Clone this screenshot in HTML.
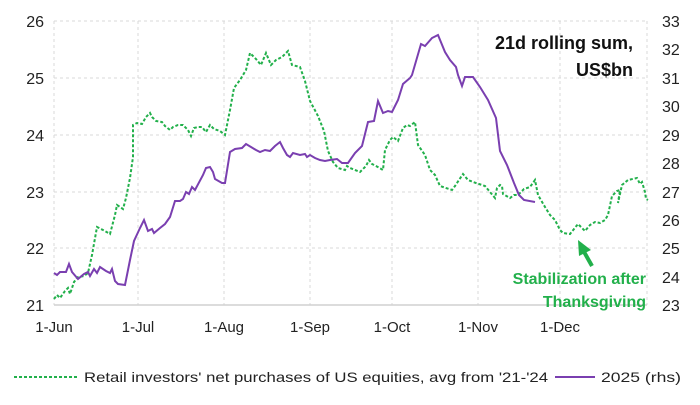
<!DOCTYPE html><html><head><style>body{margin:0;background:#fff}svg text{font-family:"Liberation Sans",sans-serif}</style></head><body>
<svg width="700" height="400" viewBox="0 0 700 400" xmlns="http://www.w3.org/2000/svg">
<g stroke="#d9d9d9" stroke-width="1" stroke-dasharray="3,3">
<line x1="54" y1="21" x2="647" y2="21"/><line x1="54" y1="78" x2="647" y2="78"/><line x1="54" y1="135" x2="647" y2="135"/><line x1="54" y1="192" x2="647" y2="192"/><line x1="54" y1="248" x2="647" y2="248"/>
<line x1="54" y1="21" x2="54" y2="305"/><line x1="138" y1="21" x2="138" y2="305"/><line x1="224" y1="21" x2="224" y2="305"/><line x1="310" y1="21" x2="310" y2="305"/><line x1="392" y1="21" x2="392" y2="305"/><line x1="478" y1="21" x2="478" y2="305"/><line x1="560" y1="21" x2="560" y2="305"/><line x1="647" y1="21" x2="647" y2="305"/>
</g>
<line x1="54" y1="305" x2="647" y2="305" stroke="#d0d0d0" stroke-width="1.5"/>
<g font-size="16" fill="#222" text-anchor="end">
<text x="44" y="27">26</text><text x="44" y="84">25</text><text x="44" y="141">24</text><text x="44" y="198">23</text><text x="44" y="254">22</text><text x="44" y="311">21</text></g>
<g font-size="16" fill="#222">
<text x="662" y="27">33</text><text x="662" y="55">32</text><text x="662" y="84">31</text><text x="662" y="112">30</text><text x="662" y="141">29</text><text x="662" y="169">28</text><text x="662" y="198">27</text><text x="662" y="226">26</text><text x="662" y="254">25</text><text x="662" y="283">24</text><text x="662" y="311">23</text></g>
<g font-size="15" fill="#222" text-anchor="middle">
<text x="54" y="332">1-Jun</text><text x="138" y="332">1-Jul</text><text x="224" y="332">1-Aug</text><text x="310" y="332">1-Sep</text><text x="392" y="332">1-Oct</text><text x="478" y="332">1-Nov</text><text x="560" y="332">1-Dec</text></g>
<polyline fill="none" stroke="#22b04b" stroke-width="2" stroke-dasharray="3,2" points="54,299 57,295 60,298 65,291 68,288 70,294 74,282 78,277 84,276 88,273 92,255 97,227 103,230 110,234 115,215 117,205 123,209 126,198 130,178 133,157 133,125 137,123 142,124 146,117 150,113 152,117 156,121 162,122 165,126 170,130 173,127 178,125 183,125 188,130 191,136 194,128 198,127 202,127 206,132 210,125 214,129 220,131 225,135 230,110 234,88 240,80 246,70 250,53 256,59 261,65 266,53 271,65 276,60 282,57 288,51 292,65 300,67 305,81 310,101 318,116 324,131 328,151 333,162 338,168 345,170 347,166 350,168 360,172 366,166 369,160 372,164 376,166 383,170 385,150 390,140 393,137 398,141 403,128 407,125 410,126 415,122 418,145 425,155 430,170 435,175 440,186 452,190 455,186 463,174 468,180 476,183 485,186 490,192 495,198 497,188 500,185 502,186 503,194 510,198 514,195 518,195 524,189 530,187 535,180 538,195 545,207 550,215 555,220 560,230 563,233 570,234 574,229 578,224 580,226 585,231 590,225 595,222 600,223 605,220 608,215 612,196 617,191 620,190 618,203 622,185 628,180 637,178 640,184 642,182 645,192 646,199 648,200"/>
<polyline fill="none" stroke="#7a3fb0" stroke-width="2" points="54,273 57,275 60,272 66,272 69,264 72,272 78,279 84,274 88,272 90,276 94,269 97,273 100,267 106,271 110,273 112,269 115,281 118,284 125,285 130,260 134,241 140,228 144,220 148,231 152,229 154,233 160,228 165,224 170,217 175,201 180,201 183,199 186,192 189,194 192,187 195,190 203,175 206,168 210,167 213,172 215,179 222,183 225,183 230,152 235,149 242,148 246,144 251,147 256,150 260,152 265,150 270,151 275,146 280,142 283,148 287,155 290,157 293,153 300,155 305,154 307,157 310,155 315,158 320,160 325,161 330,160 337,159 342,163 348,163 355,153 362,146 368,122 374,121 378,101 383,113 388,111 392,112 398,100 403,84 410,78 412,75 421,44 425,46 432,38 438,35 445,52 450,60 456,67 458,75 462,86 465,77 473,77 480,87 488,100 496,118 500,151 507,165 514,183 519,195 524,200 535,202"/>
<g font-size="18" font-weight="bold" fill="#111" text-anchor="end"><text x="633" y="49">21d rolling sum,</text><text x="633" y="76">US$bn</text></g>
<g font-size="16" font-weight="bold" fill="#22b04b" text-anchor="end"><text x="646" y="284">Stabilization after</text><text x="646" y="307">Thanksgiving</text></g>
<line x1="592" y1="266" x2="583" y2="250" stroke="#22b04b" stroke-width="4"/>
<polygon points="578,240 591,250 579,256" fill="#22b04b"/>
<line x1="14" y1="377" x2="78" y2="377" stroke="#22b04b" stroke-width="2" stroke-dasharray="3,2"/>
<text x="84" y="382" font-size="14" fill="#222" textLength="464" lengthAdjust="spacingAndGlyphs">Retail investors' net purchases of US equities, avg from '21-'24</text>
<line x1="555" y1="377" x2="595" y2="377" stroke="#7a3fb0" stroke-width="2"/>
<text x="601" y="382" font-size="14" fill="#222" textLength="80" lengthAdjust="spacingAndGlyphs">2025 (rhs)</text>
</svg></body></html>
